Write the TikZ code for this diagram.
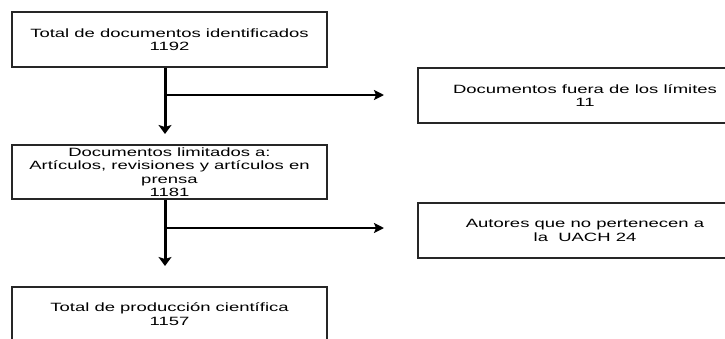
\documentclass[tikz,border=0pt]{standalone}
\usepackage{fontspec}
\setmainfont{Liberation Sans}[FakeStretch=1.54]
\usetikzlibrary{arrows.meta}
\tikzset{
  box/.style={draw=black!85, line width=1.3pt, rectangle, align=center, inner sep=0pt,
    font=\fontsize{12}{13.5}\selectfont},
  mainarrow/.style={line width=3pt, -{Stealth[width=13pt,length=9pt,inset=2pt]}},
  sidearrow/.style={line width=2pt, -{Stealth[width=10pt,length=10pt,inset=2pt]}}
}
\begin{document}
\begin{tikzpicture}[x=1pt,y=-1pt]
\useasboundingbox (0,0) rectangle (725,338);
\fill[white] (0,0) rectangle (725,338);
\begin{scope}
\clip (0,0) rectangle (725,338);
\node[box, minimum width=315pt, minimum height=55pt] (b1) at (169.5,39.5)
  {Total de documentos identificados\\1192};
\node[box, minimum width=315pt, minimum height=54pt] (b2) at (169.5,172)
  {Documentos limitados a:\\Artículos, revisiones y artículos en\\prensa\\1181};
\node[box, minimum width=315pt, minimum height=54pt] (b3) at (169.5,314)
  {Total de producción científica\\1157};
\node[box, minimum width=334pt, minimum height=55pt] (r1) at (585,95.5)
  {Documentos fuera de los límites\\11};
\node[box, minimum width=334pt, minimum height=55pt] (r2) at (585,230.5)
  {Autores que no pertenecen a\\la\ \ UACH 24};
\coordinate (t1) at (165,134);
\coordinate (e1) at (384,95);
\coordinate (t2) at (165,266);
\coordinate (e2) at (384,228);
\draw[mainarrow] (t1 |- b1.south) -- (t1);
\draw[sidearrow] (t1 |- e1) -- (e1);
\draw[mainarrow] (t2 |- b2.south) -- (t2);
\draw[sidearrow] (t2 |- e2) -- (e2);
\end{scope}
\end{tikzpicture}
\end{document}
